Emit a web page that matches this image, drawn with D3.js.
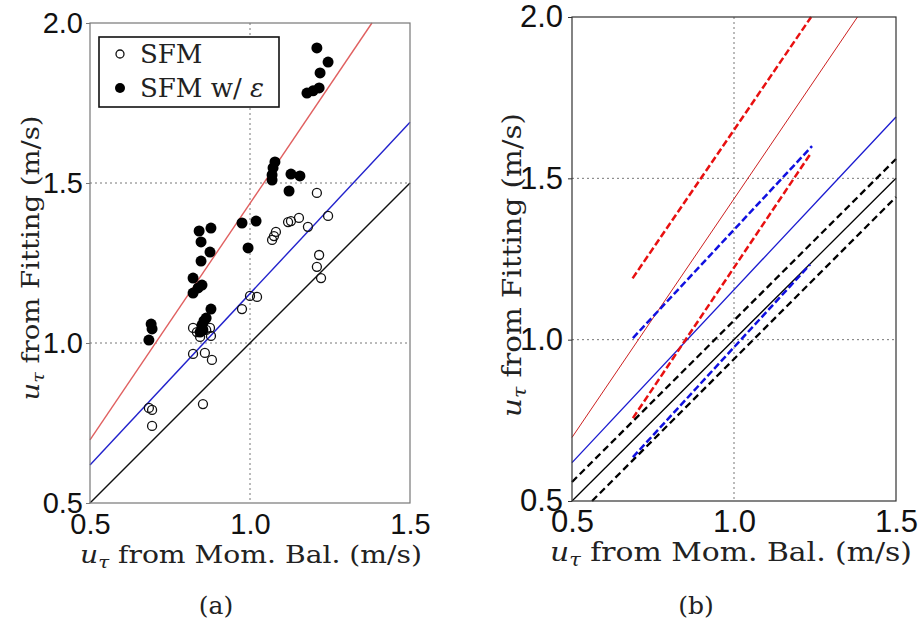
<!DOCTYPE html>
<html>
<head>
<meta charset="utf-8">
<script src="https://cdn.jsdelivr.net/npm/d3@7"></script>
<style>
  body { margin: 0; background: #fff; }
  svg { display: block; }
</style>
</head>
<body>
<script>
  // u_tau values
  const sfm = [
    [1.209, 1.469], [1.153, 1.391], [1.128, 1.381], [1.119, 1.378], [1.181, 1.363], [1.244, 1.397],
    [1.081, 1.347], [1.075, 1.334], [1.069, 1.322],
    [1.216, 1.275], [1.209, 1.238], [1.222, 1.203],
    [0.975, 1.106], [1.0, 1.147], [1.022, 1.144],
    [0.822, 1.047], [0.834, 1.034], [0.844, 1.019], [0.875, 1.047], [0.878, 1.022], [0.863, 1.041],
    [0.822, 0.966], [0.859, 0.969], [0.881, 0.947],
    [0.853, 0.809],
    [0.684, 0.797], [0.694, 0.791], [0.694, 0.741]
  ];

  const sfmEps = [
    [1.209, 1.922], [1.244, 1.878], [1.219, 1.844], [1.216, 1.797], [1.197, 1.788], [1.178, 1.781],
    [1.078, 1.566], [1.072, 1.547], [1.069, 1.525], [1.069, 1.509], [1.128, 1.528], [1.156, 1.522], [1.122, 1.475],
    [1.019, 1.381], [0.975, 1.375], [0.994, 1.297],
    [0.841, 1.350], [0.878, 1.359], [0.847, 1.316], [0.875, 1.284], [0.847, 1.256],
    [0.822, 1.203], [0.850, 1.181], [0.822, 1.156], [0.838, 1.172],
    [0.878, 1.106], [0.863, 1.078],
    [0.691, 1.059], [0.694, 1.044], [0.684, 1.009],
    [0.856, 1.069], [0.850, 1.056], [0.853, 1.041], [0.844, 1.034]
  ];

  // fitted lines, as end points
  const lineIdentity = [[0.5, 0.5], [1.5, 1.5]];
  const lineSfm = [[0.5, 0.619], [1.5, 1.69]];
  const lineSfmEps = [[0.5, 0.697], [1.381, 2.0]];

  // uncertainty bands in panel (b)
  const bandBlackUp = [[0.5, 0.559], [1.5, 1.56]];
  const bandBlackLo = [[0.562, 0.5], [1.5, 1.442]];
  const bandRedUp = [[0.687, 1.19], [1.238, 2.0]];
  const bandRedLo = [[0.688, 0.757], [1.238, 1.579]];
  const bandBlueUp = [[0.688, 1.005], [1.241, 1.60]];
  const bandBlueLo = [[0.688, 0.636], [1.235, 1.233]];

  const tickValues = [0.5, 1.0, 1.5, 2.0];
  const xTickValues = [0.5, 1.0, 1.5];
  const gridValues = [1.0, 1.5];
  const legendLabels = ['SFM', 'SFM w/ '];

  const svg = d3.select('body').append('svg')
    .attr('width', 919)
    .attr('height', 623);

  const serif = "'DejaVu Serif', 'Liberation Serif', serif";
  const sans = "'Liberation Sans', Arial, sans-serif";

  function addUtauLabel(sel, rest) {
    sel.append('tspan').attr('font-style', 'italic').text('u');
    sel.append('tspan').attr('font-style', 'italic').attr('font-size', '70%').attr('dy', 5).text('τ');
    sel.append('tspan').attr('dy', -5).text(rest);
  }

  function drawPanel(p) {
    const x = d3.scaleLinear().domain([0.5, 1.5]).range([p.left, p.right]);
    const y = d3.scaleLinear().domain([0.5, 2.0]).range([p.bottom, p.top]);
    const g = svg.append('g');

    // dotted grid
    g.append('g').selectAll('line.gx')
      .data([1.0])
      .join('line')
      .attr('x1', d => x(d)).attr('x2', d => x(d))
      .attr('y1', p.top).attr('y2', p.bottom)
      .attr('stroke', '#777').attr('stroke-dasharray', '2,3');
    g.append('g').selectAll('line.gy')
      .data(gridValues)
      .join('line')
      .attr('y1', d => y(d)).attr('y2', d => y(d))
      .attr('x1', p.left).attr('x2', p.right)
      .attr('stroke', '#777').attr('stroke-dasharray', '2,3');

    const line = d3.line().x(d => x(d[0])).y(d => y(d[1]));
    p.lines.forEach(l => {
      g.append('path')
        .attr('d', line(l.data))
        .attr('fill', 'none')
        .attr('stroke', l.color)
        .attr('stroke-width', l.width)
        .attr('stroke-dasharray', l.dash || null);
    });

    if (p.points) {
      g.append('g').selectAll('circle')
        .data(sfm)
        .join('circle')
        .attr('cx', d => x(d[0])).attr('cy', d => y(d[1]))
        .attr('r', 4.5)
        .attr('fill', 'none').attr('stroke', '#111').attr('stroke-width', 1.3);
      g.append('g').selectAll('circle')
        .data(sfmEps)
        .join('circle')
        .attr('cx', d => x(d[0])).attr('cy', d => y(d[1]))
        .attr('r', 5.5)
        .attr('fill', '#000');
    }

    // frame
    g.append('rect')
      .attr('x', p.left).attr('y', p.top)
      .attr('width', p.right - p.left).attr('height', p.bottom - p.top)
      .attr('fill', 'none').attr('stroke', p.frame).attr('stroke-width', 1.2);

    const yAxis = g.append('g')
      .attr('transform', `translate(${p.left},0)`)
      .call(d3.axisLeft(y).tickValues(tickValues).tickFormat(d3.format('.1f')).tickSize(4).tickPadding(p.yPad));
    const xAxis = g.append('g')
      .attr('transform', `translate(0,${p.bottom})`)
      .call(d3.axisBottom(x).tickValues(xTickValues).tickFormat(d3.format('.1f')).tickSize(0).tickPadding(p.xPad));
    [yAxis, xAxis].forEach(a => {
      a.select('.domain').remove();
      a.selectAll('line').attr('stroke', p.frame);
      a.selectAll('text').attr('font-family', sans).attr('font-size', p.tickFont).attr('fill', '#111');
    });

    const xl = g.append('text')
      .attr('x', p.xlX)
      .attr('y', p.xlY)
      .attr('text-anchor', 'middle')
      .attr('textLength', p.xlLen).attr('lengthAdjust', 'spacingAndGlyphs')
      .attr('font-family', serif).attr('font-size', p.labelFont).attr('fill', '#222');
    addUtauLabel(xl, ' from Mom. Bal. (m/s)');

    const yl = g.append('text')
      .attr('transform', `translate(${p.ylX},${p.ylY}) rotate(-90)`)
      .attr('text-anchor', 'middle')
      .attr('textLength', p.ylLen).attr('lengthAdjust', 'spacingAndGlyphs')
      .attr('font-family', serif).attr('font-size', p.labelFont).attr('fill', '#222');
    addUtauLabel(yl, ' from Fitting (m/s)');

    g.append('text')
      .attr('x', p.capX).attr('y', 614)
      .attr('text-anchor', 'middle')
      .attr('font-family', serif).attr('font-size', 25).attr('fill', '#222')
      .text(p.caption);
  }

  drawPanel({
    left: 90, right: 410, top: 23, bottom: 503,
    frame: '#777', tickFont: 29, yPad: 3, xPad: 10,
    labelFont: 24, xlX: 251, xlY: 563, xlLen: 342, ylX: 39, ylY: 258, ylLen: 285,
    capX: 216, caption: '(a)', points: true,
    lines: [
      { data: lineIdentity, color: '#111', width: 1.4 },
      { data: lineSfm, color: '#2222cc', width: 1.4 },
      { data: lineSfmEps, color: '#e06060', width: 1.4 }
    ]
  });

  drawPanel({
    left: 572, right: 896, top: 17, bottom: 501,
    frame: '#333', tickFont: 31, yPad: 5, xPad: 9,
    labelFont: 25.5, xlX: 731, xlY: 561, xlLen: 362, ylX: 521, ylY: 265, ylLen: 304,
    capX: 696, caption: '(b)', points: false,
    lines: [
      { data: lineIdentity, color: '#000', width: 1.3 },
      { data: lineSfm, color: '#1a1ad0', width: 1.3 },
      { data: lineSfmEps, color: '#cc2020', width: 1 },
      { data: bandBlackUp, color: '#000', width: 2.3, dash: '7,4' },
      { data: bandBlackLo, color: '#000', width: 2.3, dash: '7,4' },
      { data: bandRedUp, color: '#e81010', width: 2.5, dash: '7,3' },
      { data: bandRedLo, color: '#e81010', width: 2.5, dash: '7,3' },
      { data: bandBlueUp, color: '#1010e0', width: 2.5, dash: '7,3' },
      { data: bandBlueLo, color: '#1010e0', width: 2.5, dash: '7,3' }
    ]
  });

  // legend of panel (a)
  const legend = svg.append('g');
  legend.append('rect')
    .attr('x', 99).attr('y', 37).attr('width', 180).attr('height', 70)
    .attr('fill', '#fff').attr('stroke', '#111').attr('stroke-width', 1.6);
  legend.append('circle').attr('cx', 120).attr('cy', 54).attr('r', 4)
    .attr('fill', 'none').attr('stroke', '#111').attr('stroke-width', 1.3);
  legend.append('circle').attr('cx', 120).attr('cy', 88).attr('r', 5).attr('fill', '#000');
  legend.selectAll('text')
    .data(legendLabels)
    .join('text')
    .attr('x', 140).attr('y', (d, i) => 63 + i * 34)
    .attr('font-family', serif).attr('font-size', 26).attr('fill', '#222')
    .text(d => d)
    .filter((d, i) => i === 1)
    .append('tspan').attr('font-style', 'italic').text('ε');
</script>
</body>
</html>
